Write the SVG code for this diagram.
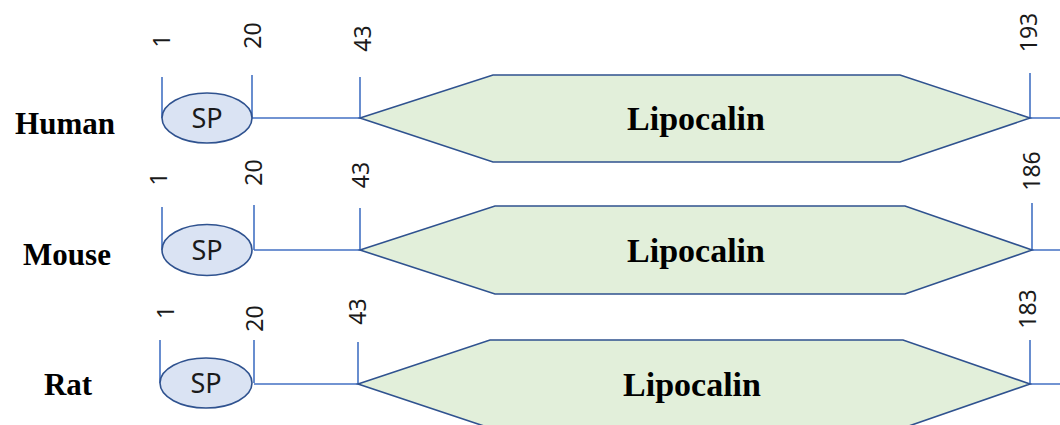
<svg xmlns="http://www.w3.org/2000/svg" width="1060" height="425" viewBox="0 0 1060 425">
  <style>
    .species { font-family: "Liberation Serif", "Times New Roman", serif; font-weight: bold; font-size: 31px; fill: #000; text-anchor: middle; }
    .domain { font-family: "Liberation Serif", "Times New Roman", serif; font-weight: bold; font-size: 34px; fill: #000; text-anchor: middle; }
    .sp { font-family: "Noto Sans", "Open Sans", sans-serif; font-size: 27px; fill: #1a1a1a; text-anchor: middle; }
    .pos { font-family: "Noto Sans", "Open Sans", sans-serif; font-size: 23px; fill: #1a1a1a; text-anchor: middle; }
    .tick { stroke: #4472c4; stroke-width: 1.6; fill: none; }
    .sp-shape { fill: #dae3f3; stroke: #2f528f; stroke-width: 1.6; }
    .lipo { fill: #e2efda; stroke: #2f528f; stroke-width: 1.6; }
  </style>

  <!-- species labels -->
  <g id="label-human"><text class="species" x="65" y="134">Human</text></g>
  <g id="label-mouse"><text class="species" x="67" y="265">Mouse</text></g>
  <g id="label-rat"><text class="species" x="68" y="395">Rat</text></g>

  <!-- backbone lines and position ticks -->
  <g id="connectors">
    <!-- human -->
    <path class="tick" d="M162,77 V118 M252,75 V118 M360,77 V118 M1030,73 V118"/>
    <path class="tick" d="M252,118 H360 M1030,118 H1060"/>
    <!-- mouse -->
    <path class="tick" d="M162,207 V250 M254,205 V250 M360,208 V250 M1032,203 V250"/>
    <path class="tick" d="M254,250 H360 M1032,250 H1060"/>
    <!-- rat -->
    <path class="tick" d="M160,340 V383 M254,340 V383 M358,342 V384 M1030,340 V384"/>
    <path class="tick" d="M254,384 H358 M1030,384 H1060"/>
  </g>

  <!-- human -->
  <g id="human-sp">
    <ellipse class="sp-shape" cx="207" cy="118" rx="45" ry="25"/>
    <text class="sp" x="207" y="128">SP</text>
  </g>
  <g id="human-lipocalin">
    <polygon class="lipo" points="360,118 493,75 900,75 1030,118 900,162 493,162"/>
    <text class="domain" x="696" y="130">Lipocalin</text>
  </g>
  <g id="human-positions">
    <text class="pos" transform="translate(170,41) rotate(-90)">1</text>
    <text class="pos" transform="translate(261,35.5) rotate(-90)">20</text>
    <text class="pos" transform="translate(371,38.5) rotate(-90)">43</text>
    <text class="pos" transform="translate(1037,32.5) rotate(-90)">193</text>
  </g>

  <!-- mouse -->
  <g id="mouse-sp">
    <ellipse class="sp-shape" cx="207" cy="250" rx="45" ry="25.5"/>
    <text class="sp" x="207" y="259.5">SP</text>
  </g>
  <g id="mouse-lipocalin">
    <polygon class="lipo" points="360,250 495,206 905,206 1032,250 905,294 495,294"/>
    <text class="domain" x="696" y="261.5">Lipocalin</text>
  </g>
  <g id="mouse-positions">
    <text class="pos" transform="translate(167,179) rotate(-90)">1</text>
    <text class="pos" transform="translate(262,172.5) rotate(-90)">20</text>
    <text class="pos" transform="translate(369,175) rotate(-90)">43</text>
    <text class="pos" transform="translate(1040,171) rotate(-90)">186</text>
  </g>

  <!-- rat -->
  <g id="rat-sp">
    <ellipse class="sp-shape" cx="206" cy="383" rx="46" ry="25"/>
    <text class="sp" x="206" y="392.5">SP</text>
  </g>
  <g id="rat-lipocalin">
    <polygon class="lipo" points="358,384 490,340 903,340 1030,384 903,428 490,428"/>
    <text class="domain" x="692" y="395.5">Lipocalin</text>
  </g>
  <g id="rat-positions">
    <text class="pos" transform="translate(174,312.5) rotate(-90)">1</text>
    <text class="pos" transform="translate(263,318.5) rotate(-90)">20</text>
    <text class="pos" transform="translate(366,311.5) rotate(-90)">43</text>
    <text class="pos" transform="translate(1036,309) rotate(-90)">183</text>
  </g>
</svg>
